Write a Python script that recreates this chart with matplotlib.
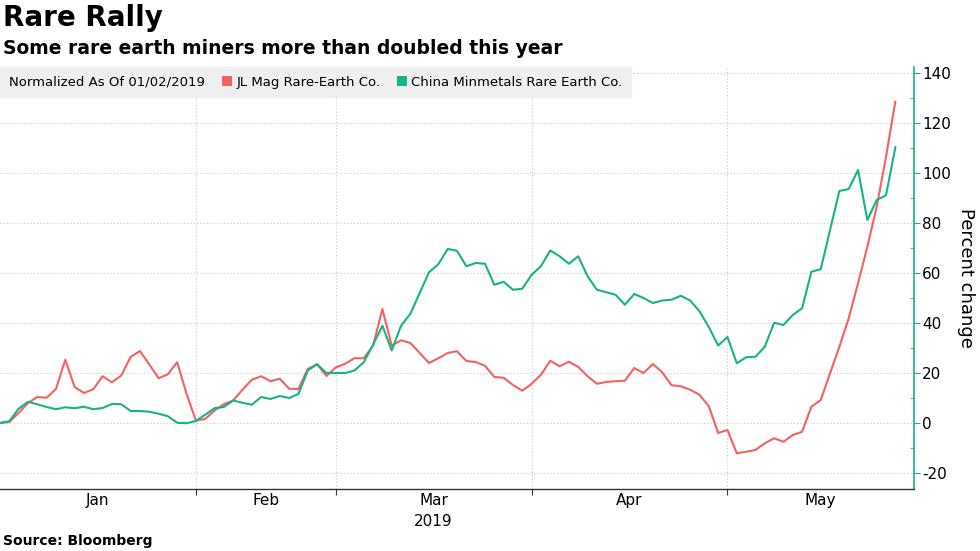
import numpy as np
import pandas as pd
import matplotlib
matplotlib.use('Agg')
import matplotlib.pyplot as plt
from matplotlib.patches import Patch
from matplotlib.ticker import MultipleLocator

plt.rcParams['axes.unicode_minus'] = False

# trading days (China), Jan 2 - May 29 2019
holidays = pd.to_datetime(['2019-02-04', '2019-02-05', '2019-02-06', '2019-02-07', '2019-02-08',
                           '2019-04-05', '2019-05-01', '2019-05-02', '2019-05-03'])
dates = pd.bdate_range('2019-01-02', '2019-05-29')
dates = dates[~dates.isin(holidays)]

# percent change since 01/02/2019
jl_mag = [0, 0.4, 4, 8, 10.4, 10.1, 13.6, 25.3, 14.4, 12, 13.5, 18.7, 16.3, 19, 26.4, 28.8,
          23.5, 17.9, 19.5, 24.3, 11.7, 1, 1.6, 5, 7.5, 9, 13.3, 17.3, 18.7, 16.7, 17.7, 13.7,
          13.6, 21.6, 23.5, 18.8, 22.2, 23.7, 25.9, 25.9, 30.9, 45.6, 30.9, 33.1, 32, 28, 24,
          25.9, 28, 28.7, 24.8, 24.4, 22.9, 18.4, 18.1, 15.2, 12.9, 15.7, 19.3, 24.9, 22.7,
          24.5, 22.4, 18.7, 15.7, 16.4, 16.7, 16.9, 22, 20, 23.6, 20.3, 15.1, 14.7, 13.3, 11.3,
          6.7, -4, -2.8, -12.1, -11.5, -10.8, -8.1, -6.1, -7.5, -4.8, -3.5, 6.5, 9.2, 19.9,
          30.5, 41.9, 55.9, 70.5, 86.5, 106.5, 128.5]
minmetals = [0, 0.7, 5.7, 8.5, 7.5, 6.4, 5.5, 6.3, 5.9, 6.5, 5.5, 6, 7.6, 7.5, 4.8, 4.8, 4.5,
             3.7, 2.7, 0.1, -0.1, 0.8, 3.3, 5.9, 6.4, 9, 8.1, 7.3, 10.4, 9.6, 10.8, 10, 11.6,
             21, 23.5, 20, 20, 20, 21, 24.3, 31.3, 38.9, 29, 38.9, 43.7, 52, 60.3, 63.5, 69.6,
             68.9, 62.7, 64, 63.7, 55.3, 56.5, 53.3, 53.7, 59.3, 62.7, 69, 66.7, 63.7, 66.7,
             58.7, 53.3, 52.3, 51.3, 47.3, 51.6, 50, 48, 49, 49.3, 50.9, 49, 44.7, 38.4, 31,
             34.4, 23.9, 26.3, 26.5, 30.5, 40.1, 39.2, 43.2, 45.9, 60.5, 61.5, 77.2, 92.8,
             93.6, 101.2, 81.2, 89.2, 91.1, 110.3]

series_names = ['JL Mag Rare-Earth Co.', 'China Minmetals Rare Earth Co.']
red = '#f2625f'
green = '#17b386'

x = np.arange(len(dates))
xmax = 98
month_ends = [i for i in range(len(dates) - 1) if dates[i].month != dates[i + 1].month]
edges = [0] + month_ends + [xmax]
centers = [(a + b) / 2 for a, b in zip(edges[:-1], edges[1:])]
month_names = [d.strftime('%b') for d in dates[[0] + [m + 1 for m in month_ends]]]

fig = plt.figure(figsize=(9.8, 5.51), dpi=100)
ax = fig.add_axes([0, 1 - 489 / 551, 914 / 980, (489 - 67) / 551])

ax.plot(x, jl_mag, color=red, lw=1.5, zorder=3)
ax.plot(x, minmetals, color=green, lw=1.5, zorder=3)

ax.set_xlim(0, xmax)
ax.set_ylim(-26.4, 142.4)

# y axis on the right
ax.yaxis.tick_right()
ax.set_yticks(range(-20, 141, 20))
ax.yaxis.set_minor_locator(MultipleLocator(10))
ax.tick_params(axis='y', which='major', direction='out', length=4, color=green,
               labelsize=11, pad=2)
ax.tick_params(axis='y', which='minor', direction='in', length=3, color=green)
for s in ['left', 'top']:
    ax.spines[s].set_visible(False)
ax.spines['right'].set_color(green)
ax.spines['right'].set_linewidth(1.2)
ax.spines['bottom'].set_color('#333333')
ax.spines['bottom'].set_linewidth(1)

# x axis: boundaries as major ticks, month names centered
ax.set_xticks(month_ends)
ax.set_xticklabels([])
ax.set_xticks(centers, minor=True)
ax.set_xticklabels(month_names, minor=True)
ax.tick_params(axis='x', which='major', direction='out', length=4, color='#333333')
ax.tick_params(axis='x', which='minor', length=0, labelsize=11, pad=3)
ax.text(centers[2], -0.076, '2019', transform=ax.get_xaxis_transform(),
        ha='center', va='center', fontsize=11)

ax.grid(axis='both', which='major', linestyle=(0, (1, 2)), color='#c8c8c8', lw=0.8)
ax.set_axisbelow(True)

fig.text(966 / 980, 1 - 278 / 551, 'Percent change', rotation=270,
         ha='center', va='center', fontsize=13)

# legend strip
handles = [Patch(visible=False),
           Patch(facecolor=red, edgecolor='none'),
           Patch(facecolor=green, edgecolor='none')]
labels = ['Normalized As Of 01/02/2019'] + series_names
leg = ax.legend(handles, labels, ncol=3, loc='upper left',
                bbox_to_anchor=(-13 / 980, 1 - 67 / 551), bbox_transform=fig.transFigure,
                fontsize=9.5, handlelength=0.75, handleheight=0.75, handletextpad=0.3,
                columnspacing=1.3, borderpad=0.65, borderaxespad=0,
                frameon=True, fancybox=False, framealpha=1)
leg.get_frame().set_facecolor('#efefef')
leg.get_frame().set_edgecolor('#efefef')
leg.set_zorder(5)

fig.text(3 / 980, 1 - 18 / 551, 'Rare Rally', fontsize=20, fontweight='bold', va='center')
fig.text(3 / 980, 1 - 48 / 551, 'Some rare earth miners more than doubled this year',
         fontsize=13.5, fontweight='bold', va='center')
fig.text(3 / 980, 1 - 541 / 551, 'Source: Bloomberg', fontsize=10, fontweight='bold',
         va='center')

fig.savefig('out.png', dpi=100)
